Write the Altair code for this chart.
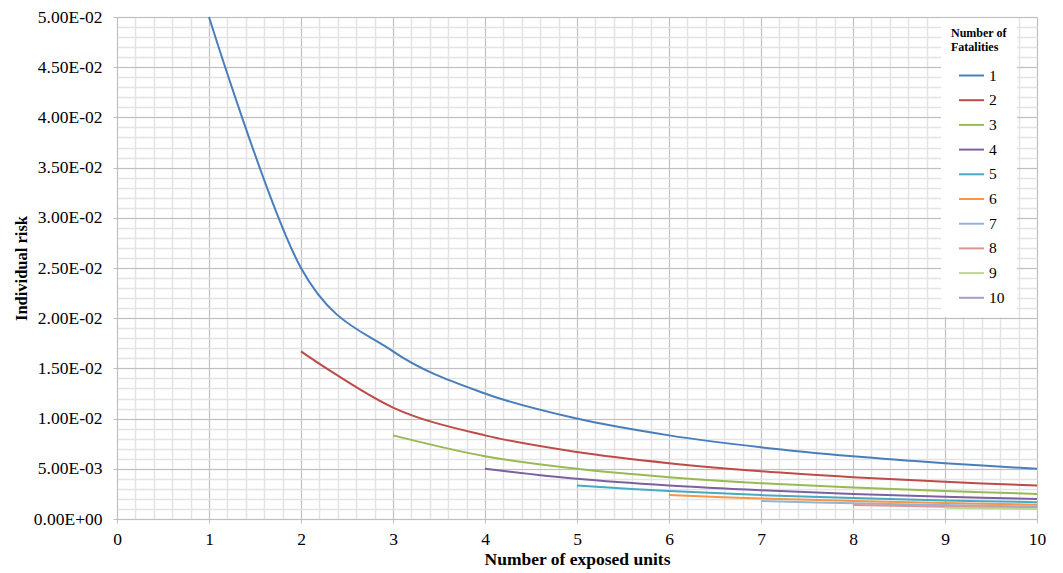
import altair as alt
import pandas as pd

# x positions (number of exposed units)
xs = [1, 2, 3, 4, 5, 6, 7, 8, 9, 10]

# Individual risk; series n starts at x = n
s1 = [5.00e-2, 2.50e-2, 1.67e-2, 1.25e-2, 1.00e-2, 8.33e-3, 7.14e-3, 6.25e-3, 5.56e-3, 5.00e-3]
s2 = [1.67e-2, 1.11e-2, 8.33e-3, 6.67e-3, 5.56e-3, 4.76e-3, 4.17e-3, 3.70e-3, 3.33e-3]
s3 = [8.33e-3, 6.25e-3, 5.00e-3, 4.17e-3, 3.57e-3, 3.13e-3, 2.78e-3, 2.50e-3]
s4 = [5.00e-3, 4.00e-3, 3.33e-3, 2.86e-3, 2.50e-3, 2.22e-3, 2.00e-3]
s5 = [3.33e-3, 2.78e-3, 2.38e-3, 2.08e-3, 1.85e-3, 1.67e-3]
s6 = [2.38e-3, 2.04e-3, 1.79e-3, 1.59e-3, 1.43e-3]
s7 = [1.79e-3, 1.56e-3, 1.39e-3, 1.25e-3]
s8 = [1.39e-3, 1.23e-3, 1.11e-3]
s9 = [1.11e-3, 1.00e-3]
s10 = [9.09e-4]

series_names = ["1", "2", "3", "4", "5", "6", "7", "8", "9", "10"]
series_vals = [s1, s2, s3, s4, s5, s6, s7, s8, s9, s10]
colors = ["#4A7EBB", "#BE4B48", "#98B954", "#7D60A0", "#46AAC5",
          "#F79646", "#95B3D7", "#D99694", "#BFD597", "#A99BC9"]

rows = []
for k, (name, vals) in enumerate(zip(series_names, series_vals)):
    for x, v in zip(xs[k:], vals):
        rows.append({"x": x, "risk": v, "n": name})
df = pd.DataFrame(rows)

FONT = "Liberation Serif, Times New Roman, serif"
minor_x = [round(i * 0.2, 1) for i in range(51)]
minor_y = [round(i * 0.001, 3) for i in range(51)]
major_x = list(range(11))
major_y = [round(i * 0.005, 3) for i in range(11)]

xscale = alt.Scale(domain=[0, 10], nice=False, zero=True)
yscale = alt.Scale(domain=[0, 0.05], nice=False)

minor = alt.Chart(df).mark_point(opacity=0).encode(
    x=alt.X("x:Q", scale=xscale, axis=alt.Axis(
        orient="bottom", values=minor_x, grid=True, gridColor="#e3e3e3", gridWidth=1.5,
        labels=False, ticks=False, domain=False, title=None)),
    y=alt.Y("risk:Q", scale=yscale, axis=alt.Axis(
        orient="left", values=minor_y, grid=True, gridColor="#e3e3e3", gridWidth=1.5,
        labels=False, ticks=False, domain=False, title=None)),
)

label_expr = ("datum.value == 0 ? '0.00E+00' : (datum.value >= 0.00999 ? "
              "format(datum.value * 100, '.2f') + 'E-02' : "
              "format(datum.value * 1000, '.2f') + 'E-03')")

lines = alt.Chart(df).mark_line(interpolate="cardinal", strokeWidth=2).encode(
    x=alt.X("x:Q", scale=xscale, axis=alt.Axis(
        orient="bottom", values=major_x, grid=True, gridColor="#bfbfbf", gridWidth=1,
        domainColor="#bfbfbf", tickColor="#bfbfbf", tickSize=4, labelFlush=False,
        labelFont=FONT, labelFontSize=17.5, labelColor="#000000", labelPadding=7,
        title="Number of exposed units", titleFont=FONT, titleFontSize=17.5,
        titleFontWeight="bold", titleColor="#000000", titlePadding=3)),
    y=alt.Y("risk:Q", scale=yscale, axis=alt.Axis(
        orient="left", values=major_y, grid=True, gridColor="#bfbfbf", gridWidth=1,
        domainColor="#bfbfbf", tickColor="#bfbfbf", tickSize=4, labelFlush=False,
        labelExpr=label_expr,
        labelFont=FONT, labelFontSize=17.5, labelColor="#000000", labelPadding=11,
        title="Individual risk", titleFont=FONT, titleFontSize=16.5,
        titleFontWeight="bold", titleColor="#000000", titlePadding=4)),
    color=alt.Color("n:N", sort=series_names,
                    scale=alt.Scale(domain=series_names, range=colors),
                    legend=alt.Legend(
                        title=["Number of", "Fatalities"], orient="none",
                        legendX=824, legendY=1, fillColor="white", padding=10,
                        titleFont=FONT, titleFontSize=12, titleFontWeight="bold",
                        titleColor="#000000", titleLineHeight=14, titlePadding=8,
                        symbolType="stroke", symbolSize=625, symbolStrokeWidth=2,
                        symbolOffset=7, labelOffset=4, rowPadding=2.7,
                        labelFont=FONT, labelFontSize=15.5, labelColor="#000000")),
    detail="n:N",
)

chart = alt.layer(minor, lines).resolve_axis(x="independent", y="independent").properties(
    width=920, height=502,
    padding={"left": 117, "top": 17, "right": 26, "bottom": 54},
    autosize=alt.AutoSizeParams(type="none"),
    background="white",
).configure_view(stroke=None).configure_axis(
    labelFont=FONT, titleFont=FONT
).configure_legend(
    labelFont=FONT, titleFont=FONT
)

chart.save("out.html", embed_options={"renderer": "svg", "actions": False})
